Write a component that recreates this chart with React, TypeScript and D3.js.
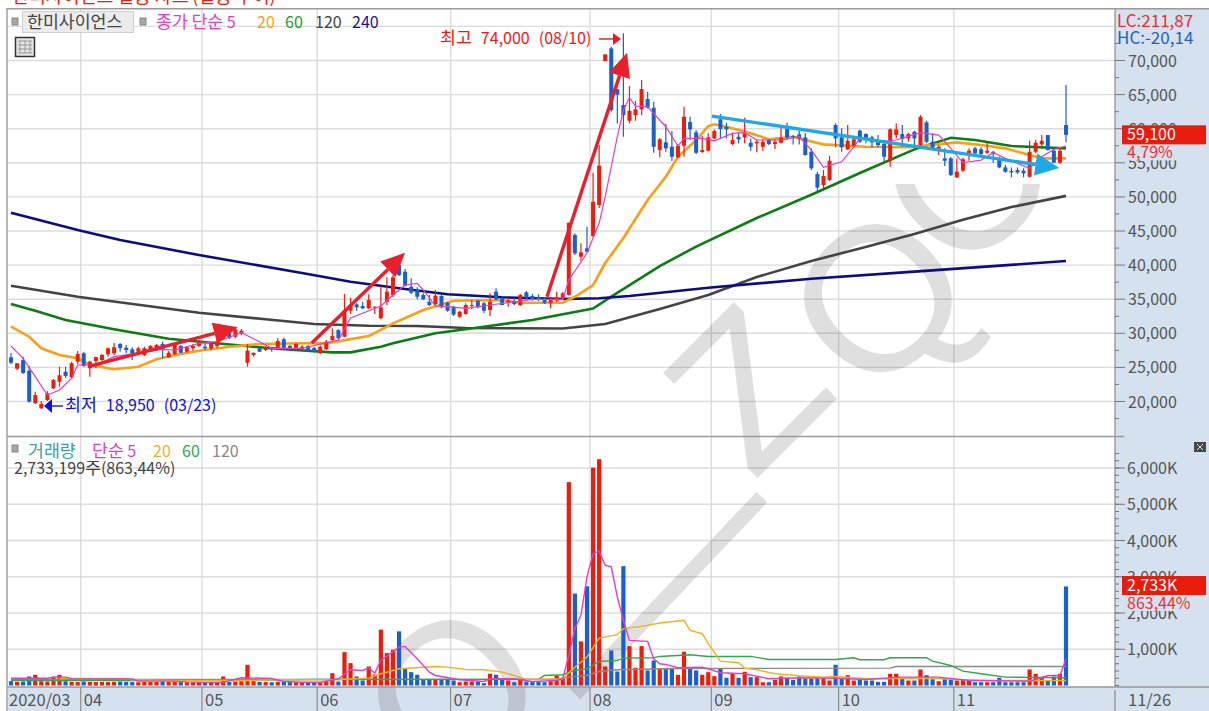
import React, { useEffect, useRef } from 'react';
import * as d3 from 'd3';

// Daily prices, 2020/03 - 11/26
const opens = [
  26480,24810,26080,24520,19780,19000,20220,21930,22900,24370,
  23550,25840,27070,24870,25940,26080,26920,27070,28430,27890,
  27650,27300,26820,27550,27650,28430,26480,26960,28140,27300,
  27800,28140,28030,27800,28140,29160,30000,29500,29900,25690,
  26820,27800,27550,27770,27650,29120,28140,27700,27650,28140,
  27840,27070,27650,29020,30480,29500,33310,34250,34000,33660,
  33810,32200,34630,35610,40010,39030,36830,36350,35610,34630,
  34290,35470,34480,33900,32430,32830,34000,34780,34400,33410,
  36100,35130,34480,34690,34150,36010,35470,35280,35030,34480,
  34780,35070,35610,44410,41230,42460,44260,48810,69920,71780,
  65770,63470,61170,62000,62840,64350,63070,56870,58000,57350,
  55800,57500,60970,59460,56580,56770,58580,61370,60290,57750,
  58820,58730,57940,57850,57350,58340,57750,57940,59950,58920,
  59170,58730,56620,53350,51740,52470,60530,58730,56970,57460,
  59700,59220,58730,58340,57750,55300,59070,59220,58580,59550,
  57600,60930,58090,56770,55650,55650,52870,53840,56390,57120,
  56970,56470,56620,55400,54330,53790,53940,53840,52960,56620,
  57700,59070,56770,55010,60530,
];
const highs = [
  27110,25640,26570,25200,21440,20070,21540,23300,25100,25100,
  25840,27400,27300,25980,26570,26960,27920,28580,28580,28280,
  27950,28030,28030,28280,28430,28770,27400,28430,28280,28140,
  28430,29020,28530,28530,29020,29900,30330,30970,30630,28430,
  27150,27920,28060,28030,29270,29350,28280,28580,28280,28280,
  27990,28210,29020,30730,30580,35760,35220,34400,34630,35720,
  33930,36930,38210,38550,40450,39420,38060,36740,35860,35610,
  36350,35610,34630,34000,33310,34400,34880,34880,34630,35860,
  36600,35360,35130,35130,35760,36200,35760,35720,35280,35360,
  36100,36010,46210,44660,43190,45630,53540,57600,70900,72020,
  65810,74000,66250,64100,67130,65420,63950,58630,60680,59650,
  57750,63220,61750,59800,58920,59320,59870,62150,60870,59410,
  59410,61600,58580,58340,58440,58440,58440,60050,60870,59070,
  59700,59360,57120,53690,53940,56030,60780,60050,60530,58630,
  59900,59320,58970,59070,58340,60050,60780,60530,59410,59700,
  62000,61170,59360,57600,57120,55840,55650,55740,57120,57350,
  57270,57940,56720,55890,54670,54330,54330,54190,58230,58340,
  59070,59070,56870,57120,66400,
];
const lows = [
  25500,24620,24030,19850,19630,18950,20070,21830,22170,23450,
  23450,25500,25100,23640,24870,25940,26570,26820,27300,27070,
  26080,27150,26670,27400,27550,26330,26380,26820,27110,27180,
  27450,27950,27550,27550,27800,29020,29160,29270,29750,25100,
  26570,27260,27400,27300,27550,27550,27550,27550,27550,27300,
  27180,26960,27550,28870,29120,29460,32830,33310,33560,33560,
  32830,32050,34150,35320,38400,36860,35760,34980,34880,34000,
  34150,33660,33170,32530,32280,32730,33520,33660,32930,32530,
  34880,34100,33900,34100,34000,34880,34780,34730,34290,33660,
  34630,34980,35540,41480,40640,41840,44120,48370,69920,62480,
  60780,58820,60780,61170,62000,62950,56470,55800,56620,55260,
  55700,55890,58340,56280,56470,56650,58480,58580,58580,57600,
  57850,57850,56770,56530,56770,57600,57020,57820,58340,57700,
  57700,56060,53940,50760,51300,52320,57270,56620,56870,57160,
  57940,57850,57270,57270,55150,54420,58580,57350,58090,57600,
  57460,57850,56970,56140,54520,53060,52770,53690,55300,55890,
  55890,56280,55010,54190,53540,52870,53350,52870,52840,56390,
  57350,56800,54960,54820,58000,
];
const closes = [
  25690,25600,24180,19970,20950,19630,21200,23150,23840,23740,
  25600,26960,25200,25840,26520,26820,27800,27950,27840,27550,
  27070,27800,27800,28140,28280,27550,27150,28280,27150,27950,
  28140,28870,27800,28430,28870,29750,29270,30580,30380,27450,
  27150,27300,27950,27620,28870,27700,27650,28430,28030,27450,
  27300,28030,28770,29600,29270,33170,34150,33810,33660,34880,
  33900,33810,36100,38210,38550,36980,35950,35360,34980,34150,
  35510,33810,33310,32750,33170,34150,34150,33810,33310,34630,
  34980,34150,34780,34290,35610,35130,35030,35030,34480,35030,
  35280,35860,46210,41730,41870,41960,49290,54570,70900,62730,
  64980,62000,62630,62840,65810,63070,57350,58440,57120,55890,
  57500,61750,59900,56470,56870,58730,59650,59950,59900,58340,
  58440,59320,57350,58090,58090,57750,58090,58670,58730,58730,
  58580,56140,54190,51370,53060,55300,58580,57270,58230,58440,
  58090,58340,58000,57600,55890,59900,59900,58480,59220,58580,
  61750,58090,57120,57350,55300,53200,53690,55510,56770,56390,
  56280,56770,56280,54330,53690,53600,53600,53450,56620,57940,
  58230,56870,55010,56770,59100,
];

// Daily volume in thousands of shares
const volumes = [
  119,100,110,249,296,119,110,230,296,119,
  100,95,110,100,95,100,95,100,110,100,
  95,90,100,95,100,110,95,100,95,90,
  90,95,85,95,100,249,100,110,119,572,
  138,100,95,90,100,119,95,91,91,91,
  85,85,110,340,110,921,617,249,138,525,
  304,1540,893,987,1494,462,368,296,166,166,
  166,185,185,138,91,110,110,110,64,324,
  296,158,138,91,158,110,110,110,91,119,
  277,213,5610,2537,1217,2738,6010,6243,525,968,
  387,3292,1087,490,1087,415,690,462,462,480,
  296,932,462,415,296,368,257,462,213,324,
  213,378,230,230,91,91,158,249,213,158,
  249,185,185,200,200,138,572,185,285,138,
  200,138,138,100,100,324,324,185,138,138,
  442,285,174,119,185,185,138,158,138,91,
  91,91,91,213,91,91,91,91,442,324,
  230,138,249,324,2733,
];

// Moving averages as [day index, price] pairs
const ma5 = [[0,28140],[2,26330],[4,23640],[6,20950],[8,21690],[10,23400],[11,25350],[14,25350],[17,26570],[25,27650],[27,27550],[31,28530],[34,28770],[38,30090],[41,28770],[43,27800],[48,27800],[54,29020],[56,32240],[61,34000],[63,35610],[65,37080],[67,37330],[68,36350],[70,34000],[72,33900],[75,33660],[79,34150],[86,34980],[91,34980],[92,37810],[95,41770],[97,46170],[98,50020],[100,58820],[101,62730],[102,64540],[103,63320],[105,63220],[108,60290],[110,57460],[111,58580],[114,58580],[116,58230],[119,59320],[121,59410],[123,58340],[127,58340],[130,58820],[132,56870],[134,54330],[137,55150],[139,57350],[140,58580],[143,58090],[146,58340],[150,59410],[153,59070],[155,57120],[157,55010],[160,55400],[162,56470],[164,55650],[168,54190],[170,55890],[172,56970],[174,57460]];
const ma20 = [[0,30970],[3,29500],[5,27800],[8,26820],[11,26330],[13,25350],[17,24720],[21,25100],[24,26190],[27,26820],[31,27450],[36,28030],[41,28430],[48,28530],[52,28530],[59,29600],[63,31460],[68,33420],[73,34780],[81,34880],[84,34480],[91,34480],[93,35360],[96,37080],[98,40300],[101,43970],[105,49540],[108,52960],[110,55890],[113,58340],[115,60390],[116,60640],[119,60050],[122,59320],[125,58440],[129,58820],[131,58340],[134,57700],[141,57350],[148,57270],[156,58000],[160,57600],[164,57120],[168,56140],[170,55650],[174,55650]];
const ma60 = [[0,34290],[4,33310],[9,31950],[17,30590],[26,29210],[37,28280],[45,27650],[53,27210],[56,27210],[61,28030],[63,28530],[70,30000],[78,30970],[86,31950],[96,33640],[99,35370],[107,39860],[113,42710],[123,46900],[132,50320],[140,53500],[149,56970],[155,58670],[159,58340],[165,57460],[174,57120]];
const ma120 = [[0,36980],[11,35360],[31,33020],[42,32050],[50,31360],[59,31110],[67,31070],[75,30770],[91,30700],[98,31360],[107,33560],[115,35610],[123,38250],[132,40600],[140,42440],[149,44560],[157,46640],[165,48510],[174,50150]];
const ma240 = [[0,47680],[11,45140],[18,43680],[31,41480],[48,38840],[56,37560],[64,36600],[72,35720],[81,35280],[91,35030],[97,35130],[102,35470],[115,36680],[132,37990],[149,39040],[174,40600]];

const volMa5 = [[0,200],[6,200],[7,235],[9,230],[10,190],[20,180],[21,120],[27,120],[29,100],[32,85],[35,85],[38,213],[43,194],[45,110],[48,91],[51,91],[54,185],[56,434],[58,415],[59,490],[60,340],[61,692],[64,1059],[65,1079],[67,738],[69,368],[70,277],[74,158],[78,110],[79,185],[83,185],[86,110],[90,138],[91,185],[92,830],[93,1568],[94,1936],[95,2996],[96,3643],[97,3706],[98,3319],[99,3272],[100,2442],[101,1798],[102,1245],[105,1217],[106,738],[107,600],[108,581],[110,490],[114,506],[115,462],[117,351],[121,324],[125,185],[130,213],[136,202],[141,166],[147,230],[153,230],[158,138],[168,119],[171,277],[173,277],[174,738]];
const volMa20 = [[8,194],[19,194],[20,160],[27,138],[40,138],[43,160],[54,166],[59,202],[61,324],[64,462],[70,525],[72,506],[75,443],[78,434],[81,368],[83,277],[85,166],[91,185],[93,506],[95,783],[97,1308],[100,1402],[101,1568],[104,1632],[107,1723],[111,1798],[112,1521],[114,1430],[115,1153],[117,672],[120,627],[121,479],[123,434],[126,324],[130,268],[134,230],[136,249],[141,185],[152,202],[156,166],[163,138],[174,138]];
const volMa60 = [[0,138],[19,138],[43,150],[50,166],[87,170],[88,277],[91,296],[93,415],[95,462],[97,664],[100,692],[101,755],[106,766],[107,802],[112,849],[115,802],[122,802],[125,719],[136,719],[139,766],[140,711],[144,711],[145,766],[151,766],[152,672],[155,553],[157,395],[160,324],[164,230],[174,213]];
const volMa120 = [[0,170],[90,170],[92,230],[95,277],[97,387],[100,434],[110,470],[145,479],[146,525],[174,525]];

// Axis ticks
const priceTicks = [20000,25000,30000,35000,40000,45000,50000,55000,60000,65000,70000];
const volumeTicks = [1000,2000,3000,4000,5000,6000];
const monthLabels = ['04','05','06','07','08','09','10','11'];
const monthStarts = [12,32,51,73,96,116,137,156];

// Drawn trend arrows, [day, price] to [day, price]
const upArrows = [
  [[13,25200],[37.4,30880]],
  [[49.6,28580],[65,41810]],
  [[88.4,35360],[101.6,71130]],
];
const downArrow = [[115.6,61850],[172.9,54230]];

const RED = '#ee1c0c';
const BLUE = '#1a5fd0';
const STRIP = '#d6e1ef';
const FONT = '"Noto Sans CJK KR", "Noto Sans", sans-serif';

const App = () => {
  const svgRef = useRef<SVGSVGElement>(null);

  useEffect(() => {
    const svg = d3.select(svgRef.current);
    svg.selectAll('*').remove();

    const width = 1209;
    const height = 711;
    const plotRight = 1115;

    // Scales
    const x = d3.scaleLinear().domain([0, 174]).range([11, 1066]);
    const yPrice = d3.scaleLinear().domain([20000, 70000]).range([401.5, 60.5]);
    const yVol = d3.scaleLinear().domain([0, 6000]).range([685.5, 468]);
    const monthX = (d: number) => x(d - 0.5);

    // Hangul runs a little wider than the digits next to them in the original font
    const text = (parent: any, str: string, px: number, py: number, color: string, size = 16, wordGap = 0) => {
      const node = parent.append('text')
        .attr('x', px).attr('y', py)
        .attr('fill', color)
        .attr('font-size', size)
        .attr('word-spacing', wordGap);
      (str.match(/[\uac00-\ud7a3]+|[^\uac00-\ud7a3]+/g) || []).forEach((run: string) => {
        node.append('tspan')
          .attr('font-size', /[\uac00-\ud7a3]/.test(run) ? size * 1.08 : size)
          .attr('xml:space', 'preserve')
          .text(run);
      });
      return node;
    };

    svg.attr('font-family', FONT);

    // Panels
    svg.append('rect').attr('width', width).attr('height', height).attr('fill', '#fff');
    svg.append('rect').attr('x', plotRight).attr('y', 9).attr('width', width - plotRight).attr('height', height - 9).attr('fill', STRIP);
    svg.append('rect').attr('x', 8).attr('y', 687).attr('width', width - 8).attr('height', 24).attr('fill', STRIP);

    // Title line above the frame. Only the bottom few pixels show in the reference and
    // it cannot be read, so this wording is a placeholder.
    text(svg, '한미사이언스 일봉 차트 (일봉 추이)', 12, 3, RED, 17);

    // Grid
    const grid = svg.append('g').attr('stroke', '#dcdcdc').attr('stroke-width', 1.4);
    grid.selectAll('line.price')
      .data([...priceTicks, 75000])
      .join('line')
      .attr('class', 'price')
      .attr('x1', 8).attr('x2', plotRight)
      .attr('y1', d => yPrice(d)).attr('y2', d => yPrice(d));
    grid.selectAll('line.vol')
      .data(volumeTicks)
      .join('line')
      .attr('class', 'vol')
      .attr('x1', 8).attr('x2', plotRight)
      .attr('y1', d => yVol(d)).attr('y2', d => yVol(d));
    grid.selectAll('line.month')
      .data(monthStarts)
      .join('line')
      .attr('class', 'month')
      .attr('x1', monthX).attr('x2', monthX)
      .attr('y1', 9).attr('y2', 686);

    // Watermark, cut off flat along its top in the reference
    svg.append('clipPath').attr('id', 'mark-clip')
      .append('rect').attr('x', 0).attr('y', 184).attr('width', width).attr('height', height - 184);
    const mark = svg.append('g')
      .attr('clip-path', 'url(#mark-clip)')
      .attr('fill', 'rgba(0,0,0,0.125)')
      .attr('font-family', '"Liberation Sans", sans-serif');
    const markLetters: [string, number, number][] = [['O', 450, 692], ['Z', 745, 386], ['Q', 876, 296], ['C', 962, 178]];
    markLetters.forEach(([ch, cx, cy]) => {
      mark.append('text')
        .attr('transform', `translate(${cx},${cy}) rotate(-45)`)
        .attr('text-anchor', 'middle')
        .attr('dy', '0.36em')
        .attr('font-size', 205)
        .text(ch);
    });
    mark.append('line')
      .attr('x1', 575).attr('y1', 694).attr('x2', 762).attr('y2', 497)
      .attr('stroke', 'rgba(0,0,0,0.125)').attr('stroke-width', 15);

    // Moving averages
    const priceLine = d3.line<number[]>().x(d => x(d[0])).y(d => yPrice(d[1]));
    const drawLine = (gen: any, data: number[][], color: string, w: number) =>
      svg.append('path')
        .attr('d', gen(data))
        .attr('fill', 'none')
        .attr('stroke', color)
        .attr('stroke-width', w);

    drawLine(priceLine, ma120, '#444444', 2.6);
    drawLine(priceLine, ma60, '#0b7d12', 2.6);
    drawLine(priceLine, ma240, '#0c0c84', 2.6);
    drawLine(priceLine, ma20, '#ff9d14', 2.6);

    // Candles
    const days = d3.range(closes.length);
    const candleColor = (i: number) => (closes[i] >= opens[i] ? RED : BLUE);
    svg.append('g').selectAll('line')
      .data(days)
      .join('line')
      .attr('x1', i => x(i)).attr('x2', i => x(i))
      .attr('y1', i => yPrice(highs[i])).attr('y2', i => yPrice(lows[i]))
      .attr('stroke', candleColor)
      .attr('stroke-width', 1.2);
    svg.append('g').selectAll('rect')
      .data(days)
      .join('rect')
      .attr('x', i => x(i) - 2)
      .attr('width', 4)
      .attr('y', i => yPrice(Math.max(opens[i], closes[i])))
      .attr('height', i => Math.max(1, Math.abs(yPrice(opens[i]) - yPrice(closes[i]))))
      .attr('fill', candleColor);

    drawLine(priceLine, ma5, '#e23fc4', 1.2);

    // Volume bars and averages
    svg.append('g').selectAll('rect')
      .data(days)
      .join('rect')
      .attr('x', i => x(i) - 2.1)
      .attr('width', 4.2)
      .attr('y', i => yVol(volumes[i]))
      .attr('height', i => yVol(0) - yVol(volumes[i]))
      .attr('fill', candleColor);

    const volLine = d3.line<number[]>().x(d => x(d[0])).y(d => yVol(d[1]));
    drawLine(volLine, volMa120, '#8a8a8a', 1.4);
    drawLine(volLine, volMa60, '#2fa84f', 1.4);
    drawLine(volLine, volMa20, '#f2b01e', 1.4);
    drawLine(volLine, volMa5, '#e23fc4', 1.4);

    // Trend arrows
    const drawArrow = (seg: number[][], color: string, w: number, headLen: number, headHalf: number) => {
      const x1 = x(seg[0][0]);
      const y1 = yPrice(seg[0][1]);
      const x2 = x(seg[1][0]);
      const y2 = yPrice(seg[1][1]);
      const a = Math.atan2(y2 - y1, x2 - x1);
      const bx = x2 - headLen * Math.cos(a);
      const by = y2 - headLen * Math.sin(a);
      svg.append('line')
        .attr('x1', x1).attr('y1', y1).attr('x2', bx).attr('y2', by)
        .attr('stroke', color).attr('stroke-width', w);
      svg.append('polygon')
        .attr('fill', color)
        .attr('points', [
          [x2, y2],
          [bx + headHalf * Math.sin(a), by - headHalf * Math.cos(a)],
          [bx - headHalf * Math.sin(a), by + headHalf * Math.cos(a)],
        ].join(' '));
    };
    upArrows.forEach(seg => drawArrow(seg, '#e8202e', 3.4, 24, 11));
    drawArrow(downArrow, '#1ea9e6', 3.4, 24, 11);

    // High and low callouts
    text(svg, '최고 74,000 (08/10)', 440, 44, '#f01818', 16, 5.5);
    const highY = 39;
    svg.append('line').attr('x1', 599).attr('x2', 614).attr('y1', highY).attr('y2', highY).attr('stroke', '#f01818').attr('stroke-width', 1.4);
    svg.append('polygon').attr('fill', '#f01818').attr('points', `621,${highY} 613,${highY - 6} 613,${highY + 6}`);
    text(svg, '최저 18,950 (03/23)', 65, 411, '#1010e0', 16, 5.5);
    const lowY = 406;
    svg.append('line').attr('x1', 50).attr('x2', 63).attr('y1', lowY).attr('y2', lowY).attr('stroke', '#1010e0').attr('stroke-width', 1.4);
    svg.append('polygon').attr('fill', '#1010e0').attr('points', `44,${lowY} 52,${lowY - 7} 52,${lowY + 7}`);

    // Frame and panel dividers
    const frame = svg.append('g').attr('stroke', '#9a9a9a').attr('stroke-width', 1.4);
    frame.append('line').attr('x1', 7).attr('x2', width).attr('y1', 8.7).attr('y2', 8.7);
    frame.append('line').attr('x1', 7).attr('x2', 7).attr('y1', 8).attr('y2', height);
    frame.append('line').attr('x1', plotRight).attr('x2', plotRight).attr('y1', 9).attr('y2', 687);
    frame.append('line').attr('x1', 7).attr('x2', 1124).attr('y1', 436.5).attr('y2', 436.5);
    frame.append('line').attr('x1', 7).attr('x2', width).attr('y1', 687).attr('y2', 687);

    // Price axis
    const tickGroup = svg.append('g').attr('stroke', '#777').attr('stroke-width', 1);
    tickGroup.selectAll('line.major')
      .data(priceTicks)
      .join('line')
      .attr('class', 'major')
      .attr('x1', plotRight).attr('x2', 1125)
      .attr('y1', d => yPrice(d)).attr('y2', d => yPrice(d));
    tickGroup.selectAll('line.minor')
      .data(d3.range(17500, 75000, 5000))
      .join('line')
      .attr('class', 'minor')
      .attr('x1', plotRight).attr('x2', 1119)
      .attr('y1', d => yPrice(d)).attr('y2', d => yPrice(d));
    priceTicks.forEach(d => text(svg, d3.format(',')(d), 1128, yPrice(d) + 6, '#555'));

    // Volume axis
    tickGroup.selectAll('line.vmajor')
      .data(volumeTicks)
      .join('line')
      .attr('class', 'vmajor')
      .attr('x1', plotRight).attr('x2', 1125)
      .attr('y1', d => yVol(d)).attr('y2', d => yVol(d));
    tickGroup.selectAll('line.vminor')
      .data(d3.range(0, 6600, 200))
      .join('line')
      .attr('class', 'vminor')
      .attr('x1', plotRight).attr('x2', 1119)
      .attr('y1', d => yVol(d)).attr('y2', d => yVol(d));
    volumeTicks.forEach(d => text(svg, `${d3.format(',')(d)}K`, 1127, yVol(d) + 6, '#555'));

    // Current price and volume tags
    const tag = (top: number, label: string, sub: string) => {
      svg.append('rect').attr('x', 1122).attr('y', top + 19).attr('width', 84).attr('height', 16).attr('fill', STRIP);
      svg.append('rect').attr('x', 1122).attr('y', top).attr('width', 84).attr('height', 19).attr('fill', '#e81c0c');
      text(svg, label, 1127, top + 15, '#fff');
      text(svg, sub, 1127, top + 33, '#f03030');
    };
    tag(yPrice(closes[closes.length - 1]) - 9.5, '59,100', '4,79%');
    tag(576, '2,733K', '863,44%');
    text(svg, 'LC:211,87', 1117, 27, '#e83030', 17);
    text(svg, 'HC:-20,14', 1117, 44, '#2060d0', 17);

    // Date axis
    const dateTicks = svg.append('g').attr('stroke', '#8a8a8a').attr('stroke-width', 1.2);
    dateTicks.selectAll('line')
      .data(monthStarts)
      .join('line')
      .attr('x1', monthX).attr('x2', monthX)
      .attr('y1', 687).attr('y2', height);
    dateTicks.append('line').attr('x1', plotRight).attr('x2', plotRight).attr('y1', 690).attr('y2', height);
    text(svg, '2020/03', 9, 706, '#555', 16.5);
    monthLabels.forEach((m, i) => text(svg, m, monthX(monthStarts[i]) + 3, 706, '#555', 16.5));
    text(svg, '11/26', 1128, 706, '#555', 16.5);

    // Price legend
    const square = (px: number, py: number) =>
      svg.append('rect').attr('x', px).attr('y', py).attr('width', 6).attr('height', 7)
        .attr('fill', '#a8a8a8').attr('stroke', '#777').attr('stroke-width', 0.8);
    square(12, 18);
    svg.append('rect').attr('x', 22.5).attr('y', 11.5).attr('width', 111).attr('height', 21)
      .attr('fill', '#ececec').attr('stroke', '#cfcfcf');
    text(svg, '한미사이언스', 27, 28, '#444', 16);
    square(140, 18);
    text(svg, '종가 단순 5', 156, 28, '#e23fc4', 16);
    text(svg, '20', 257, 28, '#ff9d14', 16);
    text(svg, '60', 285, 28, '#1f9a2a', 16);
    text(svg, '120', 315, 28, '#444', 16);
    text(svg, '240', 352, 28, '#16168c', 16);

    // Small table icon under the legend
    svg.append('rect').attr('x', 15.5).attr('y', 37.5).attr('width', 19).attr('height', 19)
      .attr('fill', '#e6e6e6').attr('stroke', '#333').attr('stroke-width', 1.5);
    const icon = svg.append('g').attr('stroke', '#999').attr('stroke-width', 1);
    [20, 25, 30].forEach(px => icon.append('line').attr('x1', px).attr('x2', px).attr('y1', 41).attr('y2', 53));
    [41, 45, 49, 53].forEach(py => icon.append('line').attr('x1', 18).attr('x2', 32).attr('y1', py).attr('y2', py));

    // Volume legend
    square(12, 445);
    text(svg, '거래량', 28, 457, '#3aa0a0', 16);
    text(svg, '단순 5', 92, 457, '#e23fc4', 16);
    text(svg, '20', 153, 457, '#f2b01e', 16);
    text(svg, '60', 182, 457, '#2fa84f', 16);
    text(svg, '120', 212, 457, '#888', 16);
    text(svg, '2,733,199주(863,44%)', 14, 474, '#444', 16);

    // Close box at the top of the volume panel
    svg.append('rect').attr('x', 1194).attr('y', 442).attr('width', 12).attr('height', 10).attr('fill', '#484848');
    const cross = svg.append('g').attr('stroke', '#ddd').attr('stroke-width', 1);
    cross.append('line').attr('x1', 1197).attr('x2', 1203).attr('y1', 444).attr('y2', 450);
    cross.append('line').attr('x1', 1203).attr('x2', 1197).attr('y1', 444).attr('y2', 450);
  }, []);

  return (
    <svg
      ref={svgRef}
      width={1209}
      height={711}
      style={{ position: 'absolute', left: 0, top: 0, display: 'block' }}
    />
  );
};

export default App;
